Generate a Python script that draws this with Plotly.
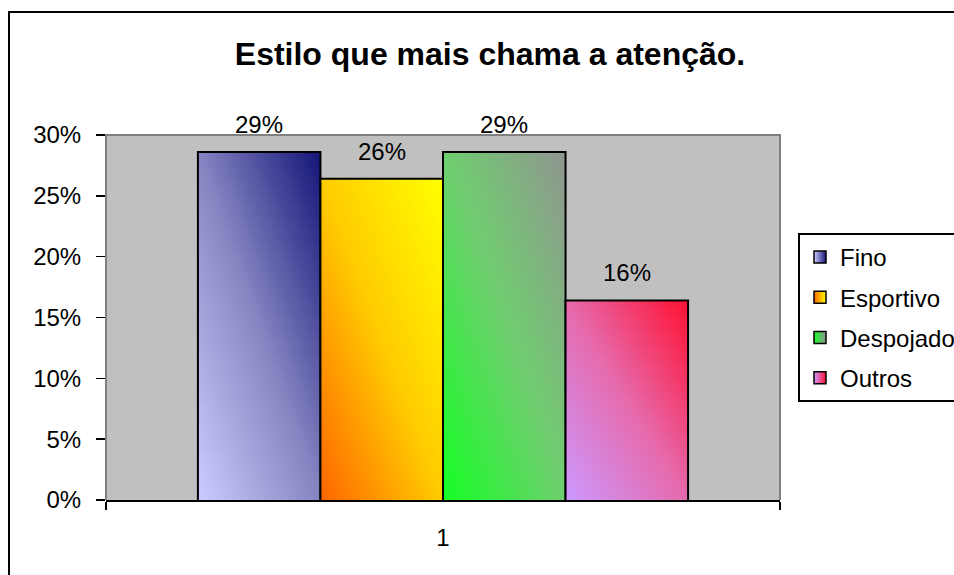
import plotly.graph_objects as go

# ---- data ----
categories = ["Fino", "Esportivo", "Despojado", "Outros"]
values = [0.286, 0.264, 0.286, 0.164]
axis_category = "1"
y_tick_vals = [0, 0.05, 0.10, 0.15, 0.20, 0.25, 0.30]
title_text = "Estilo que mais chama a atenção."

# gradient colours per series: bottom-left, middle (top-left/bottom-right), top-right
grad_start = ["#ccccff", "#ff6600", "#14ff24", "#cc99ff"]
grad_mid = ["#8585c2", "#ffcc00", "#6fcf6f", "#e66aac"]
grad_end = ["#141478", "#ffff00", "#909590", "#ff1030"]

FONT = "Arial, Liberation Sans, sans-serif"
GAP_WIDTH = 1.5  # Excel style gap width (fraction of bar width)
N_BANDS = 64

W, H = 954, 575
PL, PR, PT, PB = 106, 780, 135, 500
PW, PH = PR - PL, PB - PT


def px_x(px):
    return (px - PL) / PW


def px_y(py):
    return (PB - py) / PH


def hex2rgb(h):
    h = h.lstrip("#")
    return tuple(int(h[i:i + 2], 16) for i in (0, 2, 4))


def mix(c1, c2, f):
    a, b = hex2rgb(c1), hex2rgb(c2)
    return "rgb(%d,%d,%d)" % tuple(round(a[i] + (b[i] - a[i]) * f) for i in range(3))


def grad_color(i, t):
    if t <= 0.5:
        return mix(grad_start[i], grad_mid[i], t / 0.5)
    return mix(grad_mid[i], grad_end[i], (t - 0.5) / 0.5)


n = len(categories)
bar_w = 1.0 / (n + GAP_WIDTH)
x_start = -0.5 + GAP_WIDTH * bar_w / 2

fig = go.Figure()

for i, (cat, v) in enumerate(zip(categories, values)):
    x0 = x_start + i * bar_w
    x1 = x0 + bar_w
    # diagonal gradient built from horizontal-gradient bands
    for k in range(N_BANDS):
        yb = v * k / N_BANDS
        yt = v * (k + 1) / N_BANDS
        if k < N_BANDS - 1:
            yt += v * 0.4 / N_BANDS
        tl = (k + 0.5) / N_BANDS / 2.0
        tr = tl + 0.5
        pos_mid = (0.5 - tl) / 0.5
        cs = [[0, grad_color(i, tl)]]
        if 0 < pos_mid < 1:
            cs.append([pos_mid, grad_color(i, 0.5)])
        cs.append([1, grad_color(i, tr)])
        fig.add_trace(go.Scatter(
            x=[x0, x1, x1, x0, x0], y=[yb, yb, yt, yt, yb],
            mode="lines", fill="toself",
            fillgradient=dict(type="horizontal", colorscale=cs),
            line=dict(width=0), showlegend=False, hoverinfo="skip",
        ))
    # outline
    fig.add_trace(go.Scatter(
        x=[x0, x0, x1, x1], y=[0, v, v, 0],
        mode="lines", line=dict(color="black", width=2),
        showlegend=False, hoverinfo="skip",
    ))
    # legend entry
    fig.add_trace(go.Scatter(
        x=[None], y=[None], mode="markers", name=cat,
        legendgroup=cat,
        marker=dict(symbol="square", size=12, color=grad_start[i],
                    gradient=dict(type="horizontal", color=grad_end[i]),
                    line=dict(color="black", width=1.5)),
    ))
    # data label
    fig.add_annotation(
        x=(x0 + x1) / 2, y=v, text=f"{v:.0%}", showarrow=False,
        yanchor="bottom", yshift=12,
        font=dict(family=FONT, size=24, color="black"),
    )

# plot-area gray border (left, top, right)
fig.add_shape(type="path", xref="paper", yref="paper",
              path="M 0,0 L 0,1 L 1,1 L 1,0",
              line=dict(color="#808080", width=2), layer="above")
# outer chart frame
fig.add_shape(type="rect", xref="paper", yref="paper",
              x0=px_x(9), y0=px_y(620), x1=px_x(1100), y1=px_y(12),
              line=dict(color="black", width=2), layer="above")

fig.update_layout(
    width=W, height=H,
    margin=dict(l=PL, r=W - PR, t=PT, b=H - PB, autoexpand=False),
    paper_bgcolor="white", plot_bgcolor="#c0c0c0",
    font=dict(family=FONT, size=24, color="black"),
    title=dict(text="<b>" + title_text + "</b>",
               x=490 / W, xref="container", xanchor="center",
               y=1 - 54 / H, yref="container", yanchor="middle",
               font=dict(family=FONT, size=32, color="black")),
    showlegend=True,
    legend=dict(x=px_x(798), y=px_y(233), xanchor="left",
                yanchor="top", bgcolor="white", bordercolor="black",
                borderwidth=2, font=dict(family=FONT, size=24, color="black"),
                traceorder="grouped", tracegroupgap=6),
    hovermode=False,
)

fig.update_xaxes(
    range=[-0.5, 0.5], tickvals=[0], ticktext=[axis_category],
    ticks="", showgrid=False, zeroline=False, fixedrange=True,
    showline=True, linecolor="black", linewidth=2,
    ticklabelstandoff=15,
    minor=dict(tickvals=[-0.5, 0.5], ticks="outside", ticklen=8,
               tickcolor="black", tickwidth=1.5, showgrid=False),
    tickfont=dict(family=FONT, size=24, color="black"),
)
fig.update_yaxes(
    range=[0, 0.30], tickvals=y_tick_vals, tickformat=".0%",
    ticks="outside", ticklen=9, tickcolor="black", tickwidth=1.5,
    showgrid=False, zeroline=False, showline=False, fixedrange=True,
    ticklabelstandoff=10,
    tickfont=dict(family=FONT, size=24, color="black"),
)

fig.write_html(
    "out.html",
    config={"displayModeBar": False, "staticPlot": True},
    post_script="document.body.style.margin='0';document.body.style.overflow='hidden';",
)
